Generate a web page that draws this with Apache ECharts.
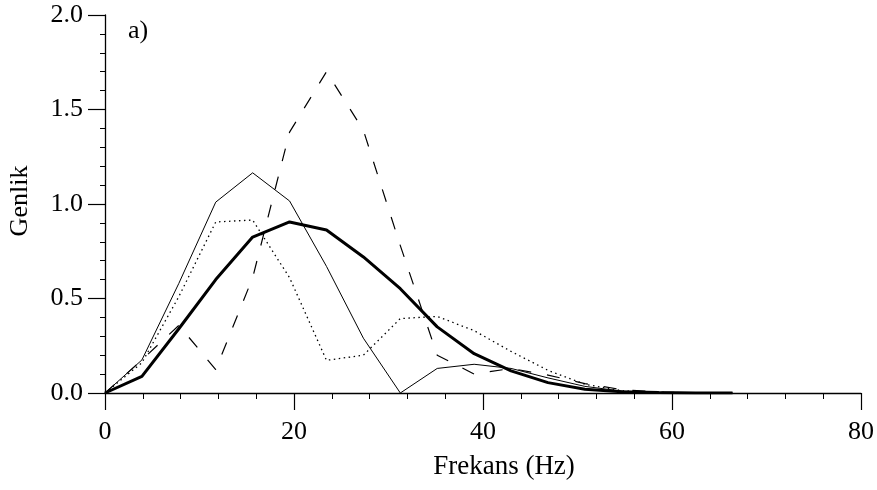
<!DOCTYPE html>
<html>
<head>
<meta charset="utf-8">
<script src="https://cdn.jsdelivr.net/npm/echarts@6/dist/echarts.min.js"></script>
<style>html,body{margin:0;padding:0;background:#fff;}#c{width:877px;height:490px;}</style>
</head>
<body>
<div id="c"></div>
<script>
// Frequency samples (Hz)
var freq = [0, 3.906, 7.813, 11.719, 15.625, 19.531, 23.438, 27.344, 31.25, 35.156, 39.063, 42.969, 46.875, 50.781, 54.688, 58.594, 62.5, 66.406];
// Amplitude series
var thickSeries  = [0, 0.088, 0.34, 0.60, 0.825, 0.905, 0.862, 0.72, 0.552, 0.35, 0.208, 0.117, 0.055, 0.02, 0.006, 0.002, 0, 0];
var thinSeries   = [0, 0.175, 0.58, 1.01, 1.165, 1.016, 0.67, 0.29, 0.0, 0.13, 0.152, 0.13, 0.08, 0.035, 0.01, 0.003, 0, 0];
var dottedSeries = [0, 0.16, 0.51, 0.905, 0.915, 0.61, 0.173, 0.2, 0.394, 0.405, 0.33, 0.22, 0.12, 0.046, 0.012, 0.003, 0, 0];
var dashedSeries = [0, 0.175, 0.358, 0.124, 0.61, 1.38, 1.70, 1.39, 0.78, 0.20, 0.10, 0.13, 0.095, 0.05, 0.018, 0.005, 0, 0];
var xTicks = [0, 20, 40, 60, 80];
var yTicks = [0.0, 0.5, 1.0, 1.5, 2.0];
var xTitle = 'Frekans (Hz)';
var yTitle = 'Genlik';
var panelLabel = 'a)';

function pairs(v){ return freq.map(function(f,i){ return [f, v[i]]; }); }
var FONT = '"Liberation Serif", "Times New Roman", serif';
var chart = echarts.init(document.getElementById('c'), null, {renderer:'canvas'});
chart.setOption({
  animation: false,
  backgroundColor: '#fff',
  grid: {left: 105, right: 15, top: 15, bottom: 97, containLabel: false},
  xAxis: {
    type: 'value', min: xTicks[0], max: xTicks[xTicks.length-1], interval: 20,
    axisLine: {lineStyle: {color: '#000', width: 1.3}},
    axisTick: {show: true, length: 17, lineStyle: {color: '#000', width: 1.2}},
    minorTick: {show: true, splitNumber: 5, length: 6, lineStyle: {color: '#000', width: 1}},
    splitLine: {show: false},
    axisLabel: {color: '#000', fontFamily: FONT, fontSize: 26, margin: 26,
      formatter: function(v){ return String(v); }}
  },
  yAxis: {
    type: 'value', min: yTicks[0], max: yTicks[yTicks.length-1], interval: 0.5,
    axisLine: {show: true, lineStyle: {color: '#000', width: 1.3}},
    axisTick: {show: true, length: 17, lineStyle: {color: '#000', width: 1.2}},
    minorTick: {show: true, splitNumber: 5, length: 5, lineStyle: {color: '#000', width: 1}},
    splitLine: {show: false},
    axisLabel: {color: '#000', fontFamily: FONT, fontSize: 26, margin: 22,
      formatter: function(v){ return v.toFixed(1); }}
  },
  graphic: [
    {type: 'text', left: 128, top: 18, style: {text: panelLabel, fill: '#000', font: '26px ' + FONT}},
    {type: 'text', x: 504, y: 467, style: {text: xTitle, fill: '#000', font: '27px ' + FONT, align: 'center', verticalAlign: 'middle'}},
    {type: 'text', x: 20, y: 201, rotation: Math.PI/2, style: {text: yTitle, fill: '#000', font: '26px ' + FONT, align: 'center', verticalAlign: 'middle'}}
  ],
  series: [
    {type: 'line', data: pairs(dashedSeries), symbol: 'none', z: 2,
      lineStyle: {color: '#000', width: 1.2, type: [13, 16]}},
    {type: 'line', data: pairs(dottedSeries), symbol: 'none', z: 3,
      lineStyle: {color: '#000', width: 1.3, type: [1.5, 3.5]}},
    {type: 'line', data: pairs(thinSeries), symbol: 'none', z: 4,
      lineStyle: {color: '#000', width: 1}},
    {type: 'line', data: pairs(thickSeries), symbol: 'none', z: 5,
      lineStyle: {color: '#000', width: 3}}
  ]
});
</script>
</body>
</html>
